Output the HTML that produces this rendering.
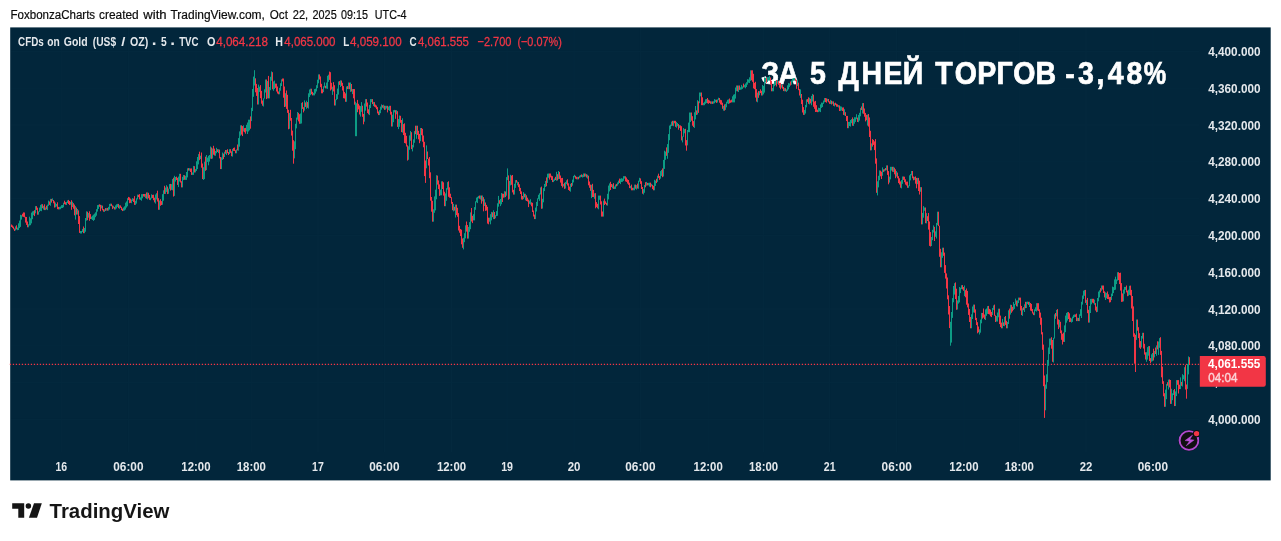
<!DOCTYPE html>
<html><head><meta charset="utf-8"><title>CFDs on Gold chart</title>
<style>
html,body{margin:0;padding:0;background:#fff;}
body{width:1281px;height:541px;overflow:hidden;}
svg{display:block;font-family:"Liberation Sans",sans-serif;}
</style></head><body>
<svg width="1281" height="541" viewBox="0 0 1281 541">
<text x="10.5" y="18.6" font-size="12" font-weight="normal" fill="#0c0c0c" text-anchor="start" textLength="84.6" lengthAdjust="spacingAndGlyphs" stroke="#0c0c0c" stroke-width="0.2">FoxbonzaCharts</text>
<text x="99.0" y="18.6" font-size="12" font-weight="normal" fill="#0c0c0c" text-anchor="start" textLength="39.7" lengthAdjust="spacingAndGlyphs" stroke="#0c0c0c" stroke-width="0.2">created</text>
<text x="143.3" y="18.6" font-size="12" font-weight="normal" fill="#0c0c0c" text-anchor="start" textLength="23.3" lengthAdjust="spacingAndGlyphs" stroke="#0c0c0c" stroke-width="0.2">with</text>
<text x="170.5" y="18.6" font-size="12" font-weight="normal" fill="#0c0c0c" text-anchor="start" textLength="94.4" lengthAdjust="spacingAndGlyphs" stroke="#0c0c0c" stroke-width="0.2">TradingView.com,</text>
<text x="269.8" y="18.6" font-size="12" font-weight="normal" fill="#0c0c0c" text-anchor="start" textLength="18.1" lengthAdjust="spacingAndGlyphs" stroke="#0c0c0c" stroke-width="0.2">Oct</text>
<text x="292.8" y="18.6" font-size="12" font-weight="normal" fill="#0c0c0c" text-anchor="start" textLength="15.4" lengthAdjust="spacingAndGlyphs" stroke="#0c0c0c" stroke-width="0.2">22,</text>
<text x="312.5" y="18.6" font-size="12" font-weight="normal" fill="#0c0c0c" text-anchor="start" textLength="24.2" lengthAdjust="spacingAndGlyphs" stroke="#0c0c0c" stroke-width="0.2">2025</text>
<text x="341.0" y="18.6" font-size="12" font-weight="normal" fill="#0c0c0c" text-anchor="start" textLength="26.9" lengthAdjust="spacingAndGlyphs" stroke="#0c0c0c" stroke-width="0.2">09:15</text>
<text x="374.8" y="18.6" font-size="12" font-weight="normal" fill="#0c0c0c" text-anchor="start" textLength="31.8" lengthAdjust="spacingAndGlyphs" stroke="#0c0c0c" stroke-width="0.2">UTC-4</text>
<rect x="10.2" y="27.4" width="1260.5" height="453" fill="#02263b"/>
<path d="M61.3 28V452M128.4 28V452M195.9 28V452M251.3 28V452M318.0 28V452M384.4 28V452M451.5 28V452M507.1 28V452M574.1 28V452M640.4 28V452M708.2 28V452M763.6 28V452M829.7 28V452M896.7 28V452M963.9 28V452M1019.3 28V452M1086.0 28V452M1152.9 28V452M11 51.4H1199M11 88.2H1199M11 125.0H1199M11 161.8H1199M11 198.6H1199M11 235.4H1199M11 272.2H1199M11 309.0H1199M11 345.8H1199M11 382.6H1199M11 419.4H1199" stroke="#04293e" stroke-width="1" fill="none"/>
<text transform="scale(0.92,1)" x="827.37 845.85" y="84.35" font-size="31" font-weight="bold" fill="#fff" stroke="#fff" stroke-width="0.7">ЗА</text>
<text transform="scale(0.92,1)" x="880.42" y="84.35" font-size="31" font-weight="bold" fill="#fff" stroke="#fff" stroke-width="0.7">5</text>
<text transform="scale(0.92,1)" x="911.55 936.33 960.21 981.27" y="84.35" font-size="31" font-weight="bold" fill="#fff" stroke="#fff" stroke-width="0.7">ДНЕЙ</text>
<text transform="scale(0.92,1)" x="1016.60 1037.70 1062.10 1083.25 1101.50 1125.52" y="84.35" font-size="31" font-weight="bold" fill="#fff" stroke="#fff" stroke-width="0.7">ТОРГОВ</text>
<text transform="scale(0.92,1)" x="1157.91 1171.67 1191.85 1204.16 1224.42" y="84.35" font-size="31" font-weight="bold" fill="#fff" stroke="#fff" stroke-width="0.7">-3,48</text>
<text transform="scale(0.8133,1)" x="1406.21" y="84.35" font-size="31" font-weight="bold" fill="#fff" stroke="#fff" stroke-width="0.7">%</text>
<line x1="9.8" x2="1200" y1="364.4" y2="364.4" stroke="#f23645" stroke-width="1.3" stroke-dasharray="1.3 1.7"/>
<path d="M15.5 226.4V230.4M17.5 227.6V230.2M18.5 223.3V230.0M19.5 220.6V228.1M20.5 214.8V226.9M21.5 215.2V219.6M28.5 224.3V227.3M29.5 216.7V225.5M30.5 218.3V225.2M31.5 212.6V223.4M32.5 211.4V219.2M33.5 210.9V215.2M35.5 206.1V213.3M38.5 211.4V214.7M39.5 207.6V211.9M40.5 204.9V210.9M41.5 204.2V211.2M43.5 205.8V209.6M45.5 207.4V210.1M47.5 204.6V210.1M48.5 200.6V205.9M50.5 198.9V205.8M52.5 198.4V200.9M55.5 202.6V207.3M56.5 204.0V206.5M59.5 206.9V209.4M60.5 206.5V209.2M61.5 205.2V208.1M62.5 205.0V208.0M63.5 202.7V207.3M66.5 201.9V205.0M67.5 200.4V203.0M70.5 201.8V204.7M72.5 201.7V207.0M75.5 206.1V219.6M77.5 209.0V214.6M80.5 231.0V233.5M81.5 231.0V233.5M82.5 228.9V232.1M84.5 228.0V233.2M85.5 218.0V231.7M86.5 211.3V220.7M88.5 213.0V217.7M91.5 216.7V219.2M92.5 215.6V220.0M93.5 214.6V220.9M94.5 213.6V219.9M95.5 212.3V217.2M96.5 209.2V215.7M97.5 205.1V211.6M98.5 204.8V208.9M101.5 205.2V208.4M104.5 209.4V211.9M106.5 208.1V210.6M108.5 206.9V210.6M109.5 203.9V209.5M110.5 203.6V206.1M113.5 205.8V208.3M115.5 205.4V209.5M116.5 204.3V208.5M117.5 203.9V207.0M119.5 205.2V208.8M123.5 207.5V210.8M124.5 206.3V210.5M125.5 202.7V209.6M126.5 201.4V207.6M127.5 198.2V206.3M131.5 199.5V203.2M132.5 198.1V201.0M135.5 200.8V204.9M136.5 198.3V203.6M137.5 194.6V199.4M140.5 197.4V199.9M141.5 194.2V200.7M142.5 194.1V198.3M145.5 193.9V198.2M147.5 192.4V199.5M150.5 197.7V200.2M151.5 194.3V198.5M155.5 194.5V203.6M156.5 193.2V199.5M159.5 200.5V209.8M162.5 194.2V204.8M163.5 190.3V200.7M165.5 187.5V194.0M166.5 185.2V191.9M168.5 188.6V193.8M169.5 184.1V188.8M171.5 184.1V189.9M172.5 179.0V190.3M174.5 175.8V195.9M175.5 177.0V181.6M178.5 176.6V187.1M179.5 173.8V181.5M182.5 176.8V187.4M183.5 175.0V180.1M185.5 175.8V179.9M186.5 172.0V179.9M187.5 168.3V177.4M189.5 168.2V170.7M192.5 172.4V174.9M193.5 165.9V174.9M195.5 169.1V172.4M196.5 161.3V170.9M197.5 157.0V169.1M198.5 154.1V164.4M200.5 155.7V159.1M203.5 167.2V179.9M204.5 161.7V179.1M206.5 155.0V170.1M207.5 157.6V161.9M208.5 155.8V165.3M209.5 155.0V161.6M210.5 146.5V158.7M212.5 148.5V158.6M215.5 151.0V155.8M216.5 147.8V153.2M218.5 149.2V153.1M221.5 157.4V169.1M222.5 152.5V159.9M224.5 151.7V157.0M226.5 150.0V155.1M229.5 149.2V154.0M232.5 148.9V156.6M236.5 149.4V153.3M238.5 138.1V150.7M239.5 131.4V146.7M240.5 125.3V135.7M243.5 125.3V131.5M246.5 124.8V131.3M247.5 122.5V134.0M248.5 119.7V131.5M249.5 119.7V130.3M251.5 107.8V121.1M252.5 89.0V111.1M253.5 76.6V96.8M254.5 70.2V85.5M258.5 84.6V104.5M259.5 86.6V91.9M263.5 98.3V106.5M264.5 89.3V98.6M265.5 79.5V92.5M267.5 81.1V98.4M269.5 87.0V98.4M270.5 76.8V90.2M271.5 71.4V80.8M273.5 81.4V90.8M274.5 80.6V89.1M279.5 87.9V94.3M280.5 83.2V90.7M281.5 79.3V86.0M285.5 93.2V106.7M289.5 112.9V128.8M294.5 141.3V158.4M295.5 123.8V149.2M296.5 117.6V128.4M297.5 112.0V119.7M300.5 113.5V123.8M301.5 102.9V123.5M304.5 100.4V110.7M306.5 100.7V108.8M308.5 93.3V108.6M309.5 89.5V97.1M310.5 88.7V95.2M313.5 92.8V95.4M314.5 89.1V95.4M315.5 88.7V93.6M316.5 85.2V91.4M317.5 79.7V88.1M318.5 74.4V83.3M323.5 86.3V92.1M324.5 82.4V87.6M326.5 82.6V88.5M327.5 75.8V88.9M328.5 74.7V81.8M332.5 86.7V94.9M335.5 99.4V105.5M336.5 94.1V100.1M337.5 88.6V99.1M338.5 81.5V94.6M340.5 80.3V87.0M346.5 86.5V101.8M348.5 82.5V89.1M350.5 82.5V91.9M352.5 89.0V94.1M355.5 101.7V136.2M356.5 103.2V136.2M360.5 106.1V116.6M361.5 102.1V111.8M364.5 103.5V121.7M365.5 99.1V110.7M369.5 104.9V115.1M370.5 99.1V108.0M371.5 99.1V102.2M373.5 101.9V106.1M379.5 110.1V115.1M380.5 106.6V113.2M381.5 104.4V109.7M383.5 104.7V108.5M385.5 105.8V109.7M386.5 105.8V108.5M388.5 106.6V110.0M389.5 105.8V110.9M392.5 114.7V126.5M393.5 110.2V122.2M394.5 109.9V112.4M396.5 110.2V114.3M398.5 119.0V129.1M399.5 115.5V126.8M402.5 118.3V132.6M408.5 146.3V159.8M409.5 135.4V149.8M410.5 131.0V140.8M412.5 144.9V151.4M413.5 139.4V147.4M414.5 131.1V142.8M416.5 125.7V138.8M420.5 128.0V141.2M426.5 145.4V168.3M433.5 209.3V221.7M434.5 196.4V212.8M435.5 189.7V210.4M436.5 175.2V199.3M440.5 189.6V195.4M441.5 181.3V195.3M445.5 193.4V206.2M446.5 188.2V200.8M447.5 182.1V189.6M453.5 203.9V211.4M455.5 204.6V217.5M463.5 237.8V249.4M464.5 233.2V242.2M465.5 225.3V238.4M468.5 226.9V238.6M469.5 222.1V231.8M470.5 212.4V229.2M473.5 214.2V220.4M474.5 207.1V220.4M475.5 201.3V209.8M476.5 197.6V202.3M477.5 196.8V203.1M478.5 195.9V198.4M480.5 195.5V199.5M482.5 195.5V201.3M484.5 199.2V206.0M489.5 217.7V221.7M490.5 214.2V224.3M491.5 211.9V220.4M493.5 210.3V219.1M495.5 215.2V218.3M496.5 211.1V216.1M497.5 203.3V215.8M498.5 195.9V206.7M500.5 199.0V206.1M501.5 193.0V204.3M504.5 191.2V197.5M506.5 177.1V195.7M507.5 168.4V180.1M509.5 181.0V198.9M510.5 174.8V185.4M514.5 183.8V194.6M515.5 180.1V187.9M517.5 181.5V185.3M523.5 192.1V199.1M525.5 193.8V200.4M529.5 200.6V203.8M530.5 199.2V204.6M535.5 207.6V219.1M536.5 201.9V211.5M537.5 198.3V206.0M538.5 194.8V199.2M539.5 193.3V200.9M540.5 187.4V194.5M542.5 198.8V208.6M543.5 188.2V202.3M544.5 184.0V191.1M545.5 180.9V187.0M547.5 173.7V182.9M548.5 173.5V177.8M553.5 179.6V182.1M554.5 178.4V180.9M556.5 171.8V180.8M558.5 171.0V179.2M563.5 183.9V186.4M565.5 182.0V188.5M566.5 180.3V184.1M570.5 183.8V191.7M572.5 179.6V185.7M573.5 175.9V182.4M574.5 174.8V177.3M577.5 176.9V179.4M579.5 175.7V178.2M580.5 174.9V177.4M582.5 174.8V177.5M583.5 173.5V177.1M585.5 173.5V176.5M587.5 174.7V178.6M591.5 184.8V198.1M594.5 193.3V198.8M598.5 195.6V209.3M599.5 195.6V199.8M603.5 200.7V216.6M607.5 193.8V205.6M608.5 185.6V199.4M609.5 183.4V191.4M612.5 184.4V188.3M614.5 186.5V189.0M615.5 184.6V188.9M617.5 182.4V185.7M618.5 180.6V184.2M620.5 178.7V184.1M621.5 178.2V182.0M622.5 178.6V181.8M623.5 176.2V180.9M624.5 176.1V178.6M630.5 185.8V188.4M633.5 187.7V190.3M634.5 184.6V190.3M636.5 185.1V189.6M638.5 180.7V188.8M639.5 177.8V181.7M643.5 189.1V194.5M644.5 185.0V192.8M646.5 181.9V185.7M648.5 182.9V185.4M649.5 182.7V186.7M651.5 183.8V186.3M654.5 179.8V190.3M655.5 180.6V185.9M657.5 175.7V181.9M660.5 171.1V178.7M661.5 169.9V175.9M663.5 159.9V176.5M664.5 150.7V168.9M665.5 151.6V159.8M667.5 144.1V158.8M668.5 134.1V152.8M669.5 125.6V140.2M670.5 124.6V129.1M671.5 121.6V126.1M673.5 120.8V126.2M676.5 121.9V127.7M677.5 123.0V126.2M679.5 125.1V128.0M682.5 136.4V142.4M683.5 128.1V136.9M684.5 129.1V133.3M687.5 130.0V145.4M688.5 122.6V132.2M689.5 112.5V132.2M690.5 112.5V122.0M694.5 112.3V127.9M695.5 106.0V119.4M697.5 100.2V114.6M699.5 92.5V103.2M700.5 92.5V96.3M703.5 102.8V105.3M704.5 101.7V105.2M705.5 99.3V103.8M706.5 99.0V103.1M711.5 101.4V103.9M713.5 101.2V103.7M714.5 99.1V103.3M715.5 99.7V102.2M717.5 99.4V102.5M718.5 97.7V100.2M723.5 105.9V110.7M725.5 103.9V109.9M726.5 101.7V107.3M727.5 99.8V103.4M728.5 99.4V104.0M732.5 96.3V102.4M733.5 94.7V102.4M734.5 94.2V102.4M735.5 87.5V98.6M736.5 85.5V91.2M738.5 85.5V92.0M740.5 87.3V89.8M741.5 84.9V89.5M742.5 86.4V88.9M744.5 84.8V87.4M745.5 83.5V88.3M746.5 82.2V87.0M747.5 79.2V84.7M748.5 79.5V82.7M749.5 77.3V83.0M750.5 70.3V80.9M757.5 92.6V102.3M759.5 91.1V95.3M762.5 85.0V95.5M763.5 85.9V94.4M764.5 77.5V92.6M765.5 77.9V82.6M767.5 77.2V81.9M768.5 77.1V80.5M769.5 75.8V80.5M772.5 88.0V91.3M773.5 84.1V91.3M774.5 81.0V86.2M775.5 80.8V85.1M777.5 80.0V83.7M781.5 84.9V87.7M784.5 87.9V91.3M786.5 89.4V91.9M787.5 85.3V90.8M788.5 83.1V89.4M789.5 83.4V87.1M791.5 80.5V84.8M792.5 78.6V82.3M793.5 78.2V80.7M794.5 78.1V80.6M797.5 79.6V85.9M800.5 89.4V97.9M804.5 109.9V114.9M805.5 104.9V113.5M806.5 99.4V107.3M809.5 97.8V104.4M811.5 95.9V105.2M812.5 93.9V101.5M818.5 107.7V112.1M819.5 108.0V111.5M820.5 104.4V112.1M821.5 102.6V107.9M822.5 102.7V107.1M823.5 100.5V103.9M824.5 98.0V102.3M827.5 98.8V101.3M830.5 99.9V104.0M832.5 101.3V103.8M834.5 103.1V106.4M838.5 105.0V107.5M840.5 106.3V110.9M841.5 106.6V110.5M844.5 109.2V115.4M848.5 121.9V128.2M849.5 121.8V126.0M850.5 120.0V126.6M851.5 119.1V123.2M853.5 118.9V126.0M854.5 117.2V123.7M855.5 117.3V121.9M856.5 114.2V119.2M858.5 114.9V122.2M859.5 112.8V120.6M860.5 108.1V116.3M862.5 103.1V113.5M867.5 114.6V125.6M871.5 143.4V150.3M877.5 181.3V195.4M878.5 175.8V187.4M879.5 170.4V180.2M882.5 167.4V175.8M884.5 168.9V171.4M886.5 165.4V170.3M889.5 176.6V182.6M890.5 166.8V179.4M891.5 166.8V170.6M893.5 166.8V172.0M896.5 171.0V176.6M901.5 180.1V188.4M902.5 176.5V183.8M908.5 185.4V187.9M909.5 175.3V186.2M910.5 174.0V180.4M911.5 171.0V175.4M914.5 176.9V179.9M917.5 177.9V184.2M920.5 187.1V191.8M922.5 212.9V224.4M923.5 206.1V217.7M924.5 207.5V210.8M926.5 213.1V223.4M931.5 237.0V246.0M932.5 229.8V240.2M933.5 225.4V232.5M935.5 231.4V236.8M936.5 222.9V238.5M937.5 211.7V225.2M941.5 252.3V267.3M942.5 247.7V257.8M950.5 321.8V345.7M951.5 312.0V342.6M952.5 298.1V317.9M953.5 286.0V302.3M954.5 283.2V294.6M957.5 300.4V309.5M958.5 296.0V303.6M959.5 287.0V302.4M960.5 287.7V293.1M961.5 285.2V289.1M964.5 285.5V296.1M971.5 314.3V328.3M972.5 306.5V319.0M973.5 304.6V312.5M979.5 329.3V334.5M980.5 319.6V332.7M981.5 312.9V323.3M985.5 309.4V320.0M986.5 308.5V315.8M987.5 306.1V313.9M992.5 308.0V315.0M993.5 305.4V309.9M996.5 316.0V321.5M997.5 312.5V321.6M998.5 308.7V317.3M1002.5 318.9V328.3M1004.5 317.0V326.2M1007.5 322.0V328.3M1008.5 310.3V324.0M1010.5 304.7V314.6M1013.5 302.1V310.1M1014.5 304.0V308.9M1015.5 298.6V304.6M1017.5 300.4V306.6M1018.5 297.6V303.1M1022.5 308.3V315.9M1024.5 304.3V312.0M1026.5 301.8V308.0M1027.5 301.6V304.1M1029.5 301.8V307.0M1034.5 309.3V315.2M1035.5 307.3V311.1M1036.5 303.2V311.6M1045.5 384.6V410.3M1046.5 374.3V388.8M1047.5 359.9V382.1M1048.5 347.5V365.8M1049.5 338.6V354.1M1050.5 338.4V345.2M1053.5 337.8V362.5M1054.5 314.3V338.5M1056.5 309.9V316.4M1059.5 320.0V327.4M1064.5 325.4V342.0M1065.5 315.6V332.2M1066.5 312.9V322.7M1067.5 312.1V320.6M1071.5 318.5V322.6M1072.5 316.6V321.9M1073.5 314.8V318.2M1074.5 314.4V317.1M1077.5 317.7V321.1M1079.5 314.3V321.1M1080.5 309.2V315.9M1081.5 301.8V318.0M1082.5 295.5V304.6M1083.5 290.7V298.9M1084.5 290.1V295.8M1086.5 299.8V305.0M1089.5 306.0V322.6M1090.5 298.9V313.0M1091.5 298.8V304.3M1094.5 299.6V304.8M1097.5 298.0V311.9M1098.5 291.6V301.3M1099.5 290.3V297.4M1101.5 285.5V290.8M1105.5 292.3V300.0M1106.5 292.9V298.3M1111.5 293.6V300.1M1112.5 286.6V296.0M1113.5 287.1V293.1M1114.5 279.4V290.1M1115.5 276.7V289.7M1116.5 279.4V284.1M1117.5 272.2V280.7M1123.5 289.6V301.4M1124.5 286.9V293.7M1125.5 286.9V289.9M1128.5 289.7V295.8M1129.5 285.8V294.9M1136.5 319.5V339.9M1141.5 336.0V347.4M1142.5 332.8V338.6M1146.5 352.2V361.8M1147.5 347.1V359.6M1148.5 346.1V355.7M1151.5 354.3V361.7M1152.5 353.0V361.2M1154.5 351.0V357.4M1156.5 345.4V355.8M1158.5 341.5V354.9M1159.5 338.1V347.8M1165.5 389.6V406.8M1166.5 384.1V399.2M1168.5 379.6V389.5M1171.5 388.8V403.9M1172.5 393.3V400.2M1173.5 390.1V395.0M1175.5 391.4V406.0M1176.5 380.1V396.1M1180.5 377.4V389.1M1182.5 374.2V386.5M1183.5 375.2V379.3M1184.5 367.2V381.2M1187.5 364.0V388.9M1188.5 356.4V374.4" stroke="#0d9c85" stroke-width="1" fill="none"/>
<path d="M11.5 224.5V227.0M12.5 225.4V227.9M13.5 226.6V229.3M14.5 228.5V231.0M16.5 225.3V229.4M22.5 213.7V216.6M23.5 212.4V216.9M24.5 212.5V217.4M25.5 216.8V222.6M26.5 217.0V224.9M27.5 221.5V227.3M34.5 210.2V216.1M36.5 206.1V209.9M37.5 207.7V214.7M42.5 204.2V208.2M44.5 204.3V210.1M46.5 205.7V209.4M49.5 201.5V204.9M51.5 198.9V202.6M53.5 200.0V203.3M54.5 201.3V207.6M57.5 202.3V209.2M58.5 206.9V209.4M64.5 200.7V204.2M65.5 202.2V204.7M68.5 199.9V204.0M69.5 201.0V205.1M71.5 200.2V209.8M73.5 203.2V208.7M74.5 204.6V215.3M76.5 207.6V214.6M78.5 210.4V224.0M79.5 216.1V232.9M83.5 226.5V233.2M87.5 211.7V220.2M89.5 211.3V220.8M90.5 214.1V219.0M99.5 204.3V206.8M100.5 204.8V211.2M102.5 205.6V210.3M103.5 209.1V211.7M105.5 208.1V210.9M107.5 207.9V210.7M111.5 203.7V206.2M112.5 205.4V209.1M114.5 206.9V209.5M118.5 203.9V208.2M120.5 205.4V207.9M121.5 206.8V210.1M122.5 208.6V211.1M128.5 196.9V200.1M129.5 197.4V203.2M130.5 198.6V202.9M133.5 198.6V202.0M134.5 196.1V204.9M138.5 194.7V197.2M139.5 194.1V199.4M143.5 194.0V196.5M144.5 194.0V196.8M146.5 192.4V198.7M148.5 192.8V198.3M149.5 194.9V199.9M152.5 194.9V198.1M153.5 194.7V200.2M154.5 197.7V202.4M157.5 190.7V201.5M158.5 198.2V209.8M160.5 199.2V205.8M161.5 201.1V205.0M164.5 185.8V193.9M167.5 186.6V194.1M170.5 183.9V190.6M173.5 177.7V196.6M176.5 176.6V180.0M177.5 177.8V184.9M180.5 173.8V182.5M181.5 181.2V187.4M184.5 175.2V179.8M188.5 168.1V170.6M190.5 168.5V172.0M191.5 168.4V174.9M194.5 166.2V172.5M199.5 151.7V160.2M201.5 152.5V167.7M202.5 163.5V179.1M205.5 156.7V170.8M211.5 147.5V158.9M213.5 145.8V154.7M214.5 148.6V155.5M217.5 149.2V152.0M219.5 149.6V158.4M220.5 157.0V169.1M223.5 153.6V159.1M225.5 150.0V153.7M227.5 149.2V153.2M228.5 152.1V155.0M230.5 149.2V152.8M231.5 151.3V156.2M233.5 147.9V150.9M234.5 147.5V151.0M235.5 150.2V153.3M237.5 144.5V150.4M241.5 125.3V134.6M242.5 126.1V136.1M244.5 128.1V132.2M245.5 127.9V133.7M250.5 116.4V128.7M255.5 78.3V92.3M256.5 83.9V95.9M257.5 88.0V104.5M260.5 85.1V98.2M261.5 90.9V103.7M262.5 100.5V105.7M266.5 79.5V99.1M268.5 75.9V98.4M272.5 72.2V89.3M275.5 83.6V87.9M276.5 83.6V91.5M277.5 86.5V93.5M278.5 91.5V94.3M282.5 78.5V81.4M283.5 78.5V97.7M284.5 86.5V107.0M286.5 90.5V108.9M287.5 94.8V112.9M288.5 109.8V129.3M290.5 109.8V120.7M291.5 118.0V135.6M292.5 130.6V150.7M293.5 140.2V163.7M298.5 112.8V121.4M299.5 114.2V123.8M302.5 102.2V108.9M303.5 107.2V112.4M305.5 102.4V106.9M307.5 102.1V107.8M311.5 88.7V94.2M312.5 91.8V95.4M319.5 74.4V79.5M320.5 76.4V87.2M321.5 83.8V93.3M322.5 89.2V93.3M325.5 85.8V88.4M329.5 71.6V79.9M330.5 72.2V90.5M331.5 82.8V89.5M333.5 82.1V91.4M334.5 85.2V105.5M339.5 81.1V84.9M341.5 80.5V85.9M342.5 82.8V90.5M343.5 86.1V98.2M344.5 91.9V98.5M345.5 93.4V101.8M347.5 86.1V89.1M349.5 82.6V89.2M351.5 84.0V91.5M353.5 89.0V98.3M354.5 89.1V104.7M357.5 99.9V112.2M358.5 103.8V109.4M359.5 105.5V114.5M362.5 105.7V116.8M363.5 113.9V124.3M366.5 99.1V106.6M367.5 102.5V113.1M368.5 109.3V114.3M372.5 99.1V104.1M374.5 102.1V106.8M375.5 104.6V107.5M376.5 105.5V109.2M377.5 107.1V113.4M378.5 111.5V115.1M382.5 105.2V107.7M384.5 105.7V109.9M387.5 105.8V112.4M390.5 105.8V114.6M391.5 111.8V126.5M395.5 110.2V118.8M397.5 111.2V126.9M400.5 115.8V122.8M401.5 120.0V132.1M403.5 124.1V135.1M404.5 123.3V143.0M405.5 132.8V143.5M406.5 135.8V146.5M407.5 145.3V160.6M411.5 132.2V149.1M415.5 125.7V134.2M417.5 125.7V134.9M418.5 130.8V139.3M419.5 133.9V143.2M421.5 128.0V135.2M422.5 128.8V141.7M423.5 135.5V147.3M424.5 141.8V176.1M425.5 160.5V182.9M427.5 151.5V159.0M428.5 158.6V165.5M429.5 157.0V178.2M430.5 172.3V200.7M431.5 197.0V211.7M432.5 200.8V221.7M437.5 175.6V184.6M438.5 180.4V189.1M439.5 184.4V195.9M442.5 181.3V189.0M443.5 182.3V195.6M444.5 191.7V206.2M448.5 181.3V196.8M449.5 187.3V197.7M450.5 193.7V198.0M451.5 197.2V203.8M452.5 202.0V210.2M454.5 206.8V210.6M456.5 204.6V215.1M457.5 207.8V216.8M458.5 213.1V230.5M459.5 225.8V232.7M460.5 229.0V236.1M461.5 229.7V244.3M462.5 238.5V247.8M466.5 221.5V231.6M467.5 225.0V238.6M471.5 208.0V221.5M472.5 215.8V223.1M479.5 195.5V198.7M481.5 195.5V203.7M483.5 197.2V211.3M485.5 202.5V210.9M486.5 204.9V210.5M487.5 206.8V223.6M488.5 217.7V224.3M492.5 212.3V217.2M494.5 212.0V219.1M499.5 200.2V203.7M502.5 193.6V202.0M503.5 193.8V197.7M505.5 191.5V197.1M508.5 175.4V199.7M511.5 175.6V184.8M512.5 175.0V192.4M513.5 189.8V194.6M516.5 180.0V182.6M518.5 182.1V187.2M519.5 184.3V191.1M520.5 187.9V194.0M521.5 191.4V199.5M522.5 196.0V199.7M524.5 193.7V197.4M526.5 195.3V201.0M527.5 197.7V201.5M528.5 199.6V207.1M531.5 202.3V206.3M532.5 202.8V212.0M533.5 210.5V216.5M534.5 214.6V219.1M541.5 186.6V208.8M546.5 177.4V186.3M549.5 173.5V179.6M550.5 173.5V177.4M551.5 175.7V180.0M552.5 176.2V182.1M555.5 176.8V180.0M557.5 174.2V180.4M559.5 171.9V178.9M560.5 175.5V182.6M561.5 178.1V185.9M562.5 177.9V187.6M564.5 182.8V188.9M567.5 179.3V185.5M568.5 183.3V190.0M569.5 186.6V190.9M571.5 183.0V186.9M575.5 175.8V178.7M576.5 176.8V179.3M578.5 176.8V179.3M581.5 174.4V176.9M584.5 173.5V176.7M586.5 174.2V177.5M588.5 175.7V185.3M589.5 181.5V187.8M590.5 184.6V190.8M592.5 183.8V197.0M593.5 189.9V197.1M595.5 193.1V208.3M596.5 202.1V207.2M597.5 203.8V208.3M600.5 195.6V204.5M601.5 201.3V216.6M602.5 211.5V216.6M604.5 198.6V205.0M605.5 201.3V203.9M606.5 202.8V205.3M610.5 181.8V190.0M611.5 184.0V187.1M613.5 183.2V188.9M616.5 183.9V186.4M619.5 178.6V183.0M625.5 176.3V181.4M626.5 177.5V181.9M627.5 179.3V183.6M628.5 180.0V184.8M629.5 182.7V188.1M631.5 184.6V190.3M632.5 187.8V190.3M635.5 184.6V188.7M637.5 183.6V188.5M640.5 178.4V183.9M641.5 181.2V189.0M642.5 187.0V193.7M645.5 182.2V187.3M647.5 182.9V185.4M650.5 182.6V187.3M652.5 184.8V189.1M653.5 185.8V190.3M656.5 178.8V183.1M658.5 173.7V177.9M659.5 176.0V179.9M662.5 168.4V177.2M666.5 147.4V155.8M672.5 120.8V125.7M674.5 120.8V123.3M675.5 120.8V126.8M678.5 124.0V129.7M680.5 125.4V130.9M681.5 126.2V140.4M685.5 128.8V145.5M686.5 140.1V150.7M691.5 112.5V120.7M692.5 116.2V125.7M693.5 121.1V127.1M696.5 110.4V114.9M698.5 101.3V112.8M701.5 92.5V105.2M702.5 97.3V105.2M707.5 98.0V103.3M708.5 99.7V103.8M709.5 100.5V103.0M710.5 101.3V103.8M712.5 101.4V103.9M716.5 99.7V102.9M719.5 98.0V102.7M720.5 99.8V104.4M721.5 100.2V104.8M722.5 102.7V108.8M724.5 104.4V110.7M729.5 98.5V103.4M730.5 100.3V102.8M731.5 99.6V102.4M737.5 85.5V91.4M739.5 85.5V89.9M743.5 83.6V87.5M751.5 70.3V80.3M752.5 70.3V81.8M753.5 73.8V88.4M754.5 82.8V89.2M755.5 81.8V97.6M756.5 89.1V101.6M758.5 91.1V97.8M760.5 89.3V93.1M761.5 90.8V95.5M766.5 77.9V82.8M770.5 77.5V84.5M771.5 80.8V91.3M776.5 80.0V86.5M778.5 80.9V84.7M779.5 82.9V87.7M780.5 82.9V89.3M782.5 84.9V88.7M783.5 86.9V91.1M785.5 88.2V91.3M790.5 81.5V85.5M795.5 78.6V81.2M796.5 79.9V88.8M798.5 82.7V90.2M799.5 89.0V95.5M801.5 94.0V104.1M802.5 99.7V112.5M803.5 107.1V114.9M807.5 99.1V101.9M808.5 97.3V103.8M810.5 98.8V103.4M813.5 94.7V106.8M814.5 101.5V108.8M815.5 100.9V112.0M816.5 105.2V111.9M817.5 109.7V112.2M825.5 98.0V102.1M826.5 98.3V102.7M828.5 99.0V102.3M829.5 101.3V103.8M831.5 100.7V104.5M833.5 101.4V105.8M835.5 102.7V105.2M836.5 103.7V106.7M837.5 104.3V106.8M839.5 105.4V111.0M842.5 107.5V111.0M843.5 107.4V114.9M845.5 112.2V116.0M846.5 115.9V121.1M847.5 115.9V128.2M852.5 117.4V125.7M857.5 117.6V122.0M861.5 106.5V110.0M863.5 103.1V113.8M864.5 108.5V116.7M865.5 112.9V121.4M866.5 114.8V120.2M868.5 114.0V126.6M869.5 117.4V137.0M870.5 130.8V150.4M872.5 139.1V146.6M873.5 139.9V144.9M874.5 141.4V150.1M875.5 139.1V163.7M876.5 158.4V192.8M880.5 170.6V176.3M881.5 171.7V179.0M883.5 169.4V171.9M885.5 168.0V170.5M887.5 165.4V174.9M888.5 171.1V184.3M892.5 166.8V171.7M894.5 167.7V174.3M895.5 169.3V178.2M897.5 172.6V178.3M898.5 176.2V183.1M899.5 178.3V184.5M900.5 181.4V187.7M903.5 176.5V179.9M904.5 176.7V182.2M905.5 179.3V184.6M906.5 181.7V185.5M907.5 181.6V187.8M912.5 171.0V178.3M913.5 176.5V180.3M915.5 176.4V183.7M916.5 177.9V188.3M918.5 177.9V191.0M919.5 180.7V194.5M921.5 187.2V224.4M925.5 207.5V223.2M927.5 216.2V221.0M928.5 213.0V229.6M929.5 221.5V245.9M930.5 232.1V246.5M934.5 226.8V241.0M938.5 211.7V226.1M939.5 225.7V256.8M940.5 248.8V267.3M943.5 247.7V255.8M944.5 252.6V272.9M945.5 265.1V278.6M946.5 273.4V288.5M947.5 277.5V299.3M948.5 295.3V314.5M949.5 306.0V328.1M955.5 282.4V299.0M956.5 288.7V309.8M962.5 285.1V289.4M963.5 287.0V290.8M965.5 290.1V297.3M966.5 288.5V304.7M967.5 290.9V307.4M968.5 303.5V314.9M969.5 309.0V322.0M970.5 317.0V328.3M974.5 304.6V312.7M975.5 309.4V320.1M976.5 317.9V325.1M977.5 322.2V333.3M978.5 326.5V332.3M982.5 312.9V318.6M983.5 308.5V317.6M984.5 314.5V319.2M988.5 305.9V314.1M989.5 308.9V314.5M990.5 309.6V316.4M991.5 311.9V317.1M994.5 304.6V315.8M995.5 315.3V322.0M999.5 308.7V324.1M1000.5 315.6V327.1M1001.5 322.6V328.3M1003.5 322.4V325.9M1005.5 316.0V324.9M1006.5 320.8V328.3M1009.5 308.6V318.7M1011.5 304.9V312.8M1012.5 306.8V311.4M1016.5 300.5V306.3M1019.5 297.6V300.3M1020.5 297.6V310.5M1021.5 305.9V315.1M1023.5 307.2V310.2M1025.5 301.8V308.2M1028.5 301.8V304.9M1030.5 303.0V310.6M1031.5 303.9V311.2M1032.5 309.0V313.5M1033.5 312.4V315.1M1037.5 303.2V310.5M1038.5 303.2V311.0M1039.5 309.3V317.8M1040.5 312.6V324.8M1041.5 317.7V334.4M1042.5 332.2V349.8M1043.5 344.6V386.2M1044.5 375.5V417.9M1051.5 337.2V348.7M1052.5 340.0V361.8M1055.5 313.0V318.8M1057.5 309.1V324.5M1058.5 319.4V329.1M1060.5 321.8V333.2M1061.5 330.4V339.8M1062.5 333.7V344.5M1063.5 332.6V341.8M1068.5 312.1V319.0M1069.5 313.3V322.1M1070.5 317.7V321.9M1075.5 314.4V316.9M1076.5 313.6V321.1M1078.5 317.9V321.1M1085.5 289.9V302.9M1087.5 297.9V313.2M1088.5 309.8V322.6M1092.5 298.8V302.6M1093.5 298.8V303.3M1095.5 303.1V310.5M1096.5 306.6V312.2M1100.5 288.2V292.5M1102.5 285.5V289.5M1103.5 285.5V293.0M1104.5 291.3V297.4M1107.5 291.5V299.0M1108.5 294.3V299.2M1109.5 297.1V302.5M1110.5 296.9V302.2M1118.5 272.2V280.1M1119.5 273.0V284.1M1120.5 272.7V290.6M1121.5 283.1V301.9M1122.5 293.4V301.7M1126.5 285.5V292.4M1127.5 290.6V296.2M1130.5 285.6V295.4M1131.5 289.9V308.5M1132.5 296.0V321.0M1133.5 306.4V336.8M1134.5 333.3V363.7M1135.5 334.8V372.0M1137.5 319.5V330.7M1138.5 327.2V338.1M1139.5 333.2V347.7M1140.5 341.1V348.9M1143.5 332.8V348.5M1144.5 343.8V354.6M1145.5 352.3V359.5M1149.5 346.1V361.0M1150.5 358.1V363.2M1153.5 348.7V360.5M1155.5 347.5V354.0M1157.5 341.3V349.4M1160.5 337.2V354.9M1161.5 350.9V377.3M1162.5 366.6V383.9M1163.5 381.2V396.3M1164.5 393.2V406.8M1167.5 382.2V385.7M1169.5 379.4V387.4M1170.5 380.0V403.9M1174.5 389.0V406.1M1177.5 380.1V384.8M1178.5 380.1V393.5M1179.5 384.7V389.1M1181.5 381.9V385.8M1185.5 365.1V389.5M1186.5 384.5V398.7M1189.5 357.2V365.1" stroke="#f23645" stroke-width="1" fill="none"/>
<text x="18.1" y="46.2" font-size="13" font-weight="bold" fill="#e4e8ec" text-anchor="start" textLength="25.7" lengthAdjust="spacingAndGlyphs">CFDs</text>
<text x="47.3" y="46.2" font-size="13" font-weight="bold" fill="#e4e8ec" text-anchor="start" textLength="12.5" lengthAdjust="spacingAndGlyphs">on</text>
<text x="63.8" y="46.2" font-size="13" font-weight="bold" fill="#e4e8ec" text-anchor="start" textLength="23.8" lengthAdjust="spacingAndGlyphs">Gold</text>
<text x="92.8" y="46.2" font-size="13" font-weight="bold" fill="#e4e8ec" text-anchor="start" textLength="23.3" lengthAdjust="spacingAndGlyphs">(US$</text>
<text x="121.3" y="46.2" font-size="13" font-weight="bold" fill="#e4e8ec" text-anchor="start" textLength="4.1" lengthAdjust="spacingAndGlyphs">/</text>
<text x="129.9" y="46.2" font-size="13" font-weight="bold" fill="#e4e8ec" text-anchor="start" textLength="18.3" lengthAdjust="spacingAndGlyphs">OZ)</text>
<text x="154.7" y="49.2" font-size="17" font-weight="bold" fill="#e4e8ec" text-anchor="middle">·</text>
<text x="161.1" y="46.2" font-size="13" font-weight="bold" fill="#e4e8ec" text-anchor="start" textLength="5.7" lengthAdjust="spacingAndGlyphs">5</text>
<text x="173.1" y="49.2" font-size="17" font-weight="bold" fill="#e4e8ec" text-anchor="middle">·</text>
<text x="179.2" y="46.2" font-size="13" font-weight="bold" fill="#e4e8ec" text-anchor="start" textLength="19.4" lengthAdjust="spacingAndGlyphs">TVC</text>
<text x="206.9" y="46.1" font-size="13" font-weight="bold" fill="#e4e8ec" text-anchor="start" textLength="8.5" lengthAdjust="spacingAndGlyphs">O</text>
<text x="216.2" y="46.1" font-size="13" font-weight="normal" fill="#f23645" text-anchor="start" textLength="51.8" lengthAdjust="spacingAndGlyphs" stroke="#f23645" stroke-width="0.3">4,064.218</text>
<text x="275.3" y="46.1" font-size="13" font-weight="bold" fill="#e4e8ec" text-anchor="start" textLength="7.7" lengthAdjust="spacingAndGlyphs">H</text>
<text x="284.3" y="46.1" font-size="13" font-weight="normal" fill="#f23645" text-anchor="start" textLength="51.2" lengthAdjust="spacingAndGlyphs" stroke="#f23645" stroke-width="0.3">4,065.000</text>
<text x="343.3" y="46.1" font-size="13" font-weight="bold" fill="#e4e8ec" text-anchor="start" textLength="6.0" lengthAdjust="spacingAndGlyphs">L</text>
<text x="350.0" y="46.1" font-size="13" font-weight="normal" fill="#f23645" text-anchor="start" textLength="51.7" lengthAdjust="spacingAndGlyphs" stroke="#f23645" stroke-width="0.3">4,059.100</text>
<text x="409.5" y="46.1" font-size="13" font-weight="bold" fill="#e4e8ec" text-anchor="start" textLength="7.1" lengthAdjust="spacingAndGlyphs">C</text>
<text x="418.0" y="46.1" font-size="13" font-weight="normal" fill="#f23645" text-anchor="start" textLength="50.9" lengthAdjust="spacingAndGlyphs" stroke="#f23645" stroke-width="0.3">4,061.555</text>
<text x="477.5" y="46.1" font-size="13" font-weight="normal" fill="#f23645" text-anchor="start" textLength="34.0" lengthAdjust="spacingAndGlyphs" stroke="#f23645" stroke-width="0.3">−2.700</text>
<text x="517.4" y="46.1" font-size="13" font-weight="normal" fill="#f23645" text-anchor="start" textLength="44.4" lengthAdjust="spacingAndGlyphs" stroke="#f23645" stroke-width="0.3">(−0.07%)</text>
<text x="1208.2" y="55.9" font-size="12.7" font-weight="bold" fill="#e4e8ec" text-anchor="start" textLength="52.4" lengthAdjust="spacingAndGlyphs">4,400.000</text>
<text x="1208.2" y="92.7" font-size="12.7" font-weight="bold" fill="#e4e8ec" text-anchor="start" textLength="52.4" lengthAdjust="spacingAndGlyphs">4,360.000</text>
<text x="1208.2" y="129.5" font-size="12.7" font-weight="bold" fill="#e4e8ec" text-anchor="start" textLength="52.4" lengthAdjust="spacingAndGlyphs">4,320.000</text>
<text x="1208.2" y="166.3" font-size="12.7" font-weight="bold" fill="#e4e8ec" text-anchor="start" textLength="52.4" lengthAdjust="spacingAndGlyphs">4,280.000</text>
<text x="1208.2" y="203.1" font-size="12.7" font-weight="bold" fill="#e4e8ec" text-anchor="start" textLength="52.4" lengthAdjust="spacingAndGlyphs">4,240.000</text>
<text x="1208.2" y="239.9" font-size="12.7" font-weight="bold" fill="#e4e8ec" text-anchor="start" textLength="52.4" lengthAdjust="spacingAndGlyphs">4,200.000</text>
<text x="1208.2" y="276.7" font-size="12.7" font-weight="bold" fill="#e4e8ec" text-anchor="start" textLength="52.4" lengthAdjust="spacingAndGlyphs">4,160.000</text>
<text x="1208.2" y="313.5" font-size="12.7" font-weight="bold" fill="#e4e8ec" text-anchor="start" textLength="52.4" lengthAdjust="spacingAndGlyphs">4,120.000</text>
<text x="1208.2" y="350.3" font-size="12.7" font-weight="bold" fill="#e4e8ec" text-anchor="start" textLength="52.4" lengthAdjust="spacingAndGlyphs">4,080.000</text>
<text x="1208.2" y="386.0" font-size="12.7" font-weight="bold" fill="#e4e8ec" text-anchor="start" textLength="52.4" lengthAdjust="spacingAndGlyphs">4,040.000</text>
<text x="1208.2" y="423.9" font-size="12.7" font-weight="bold" fill="#e4e8ec" text-anchor="start" textLength="52.4" lengthAdjust="spacingAndGlyphs">4,000.000</text>
<path d="M1199.8 356.1H1263.6Q1265.8 356.1 1265.8 358.3V384.5Q1265.8 386.7 1263.6 386.7H1199.8Z" fill="#f23645"/>
<text x="1207.9" y="368.0" font-size="12.7" font-weight="bold" fill="#ffffff" text-anchor="start" textLength="52.4" lengthAdjust="spacingAndGlyphs">4,061.555</text>
<text x="1208.2" y="381.9" font-size="12.7" font-weight="normal" fill="#fbd3d7" text-anchor="start" textLength="29.2" lengthAdjust="spacingAndGlyphs" stroke="#fbd3d7" stroke-width="0.4">04:04</text>
<text x="55.4" y="470.9" font-size="12.7" font-weight="bold" fill="#e4e8ec" text-anchor="start" textLength="11.7" lengthAdjust="spacingAndGlyphs">16</text>
<text x="113.3" y="470.9" font-size="12.7" font-weight="bold" fill="#e4e8ec" text-anchor="start" textLength="30.2" lengthAdjust="spacingAndGlyphs">06:00</text>
<text x="181.3" y="470.9" font-size="12.7" font-weight="bold" fill="#e4e8ec" text-anchor="start" textLength="29.2" lengthAdjust="spacingAndGlyphs">12:00</text>
<text x="236.7" y="470.9" font-size="12.7" font-weight="bold" fill="#e4e8ec" text-anchor="start" textLength="29.2" lengthAdjust="spacingAndGlyphs">18:00</text>
<text x="312.1" y="470.9" font-size="12.7" font-weight="bold" fill="#e4e8ec" text-anchor="start" textLength="11.7" lengthAdjust="spacingAndGlyphs">17</text>
<text x="369.3" y="470.9" font-size="12.7" font-weight="bold" fill="#e4e8ec" text-anchor="start" textLength="30.2" lengthAdjust="spacingAndGlyphs">06:00</text>
<text x="436.9" y="470.9" font-size="12.7" font-weight="bold" fill="#e4e8ec" text-anchor="start" textLength="29.2" lengthAdjust="spacingAndGlyphs">12:00</text>
<text x="501.2" y="470.9" font-size="12.7" font-weight="bold" fill="#e4e8ec" text-anchor="start" textLength="11.8" lengthAdjust="spacingAndGlyphs">19</text>
<text x="567.7" y="470.9" font-size="12.7" font-weight="bold" fill="#e4e8ec" text-anchor="start" textLength="12.8" lengthAdjust="spacingAndGlyphs">20</text>
<text x="625.3" y="470.9" font-size="12.7" font-weight="bold" fill="#e4e8ec" text-anchor="start" textLength="30.2" lengthAdjust="spacingAndGlyphs">06:00</text>
<text x="693.6" y="470.9" font-size="12.7" font-weight="bold" fill="#e4e8ec" text-anchor="start" textLength="29.2" lengthAdjust="spacingAndGlyphs">12:00</text>
<text x="749.0" y="470.9" font-size="12.7" font-weight="bold" fill="#e4e8ec" text-anchor="start" textLength="29.2" lengthAdjust="spacingAndGlyphs">18:00</text>
<text x="823.8" y="470.9" font-size="12.7" font-weight="bold" fill="#e4e8ec" text-anchor="start" textLength="11.8" lengthAdjust="spacingAndGlyphs">21</text>
<text x="881.6" y="470.9" font-size="12.7" font-weight="bold" fill="#e4e8ec" text-anchor="start" textLength="30.2" lengthAdjust="spacingAndGlyphs">06:00</text>
<text x="949.3" y="470.9" font-size="12.7" font-weight="bold" fill="#e4e8ec" text-anchor="start" textLength="29.2" lengthAdjust="spacingAndGlyphs">12:00</text>
<text x="1004.7" y="470.9" font-size="12.7" font-weight="bold" fill="#e4e8ec" text-anchor="start" textLength="29.2" lengthAdjust="spacingAndGlyphs">18:00</text>
<text x="1079.7" y="470.9" font-size="12.7" font-weight="bold" fill="#e4e8ec" text-anchor="start" textLength="12.7" lengthAdjust="spacingAndGlyphs">22</text>
<text x="1137.8" y="470.9" font-size="12.7" font-weight="bold" fill="#e4e8ec" text-anchor="start" textLength="30.2" lengthAdjust="spacingAndGlyphs">06:00</text>
<clipPath id="pc"><rect x="10" y="27" width="1189.3" height="454"/></clipPath><g clip-path="url(#pc)">
<circle cx="1189" cy="440.5" r="10.7" fill="#0a1622"/>
<circle cx="1189" cy="440.5" r="9.4" fill="#101012" stroke="#b04acf" stroke-width="1.9"/>
<path d="M1192.6 435.1L1185 440.6L1189.5 441.2L1186.1 445.9L1194.2 440L1189.8 439.5Z" fill="#bd52dc" stroke="#bd52dc" stroke-width="0.4" stroke-linejoin="round"/>
<circle cx="1196.6" cy="433.6" r="3.7" fill="#0d1016"/>
<circle cx="1196.6" cy="433.6" r="2.7" fill="#f23645"/></g>
<g fill="#151515"><path d="M12.2 503.3H24.2V517.8H18.3V508.8H12.2Z"/><circle cx="28.4" cy="506.1" r="2.75"/><path d="M34 503.3H41.8L37 517.8H28.9Z"/></g>
<text x="49.6" y="517.8" font-size="20.3" font-weight="bold" fill="#151515" text-anchor="start" textLength="119.8" lengthAdjust="spacingAndGlyphs">TradingView</text>
</svg>
</body></html>
